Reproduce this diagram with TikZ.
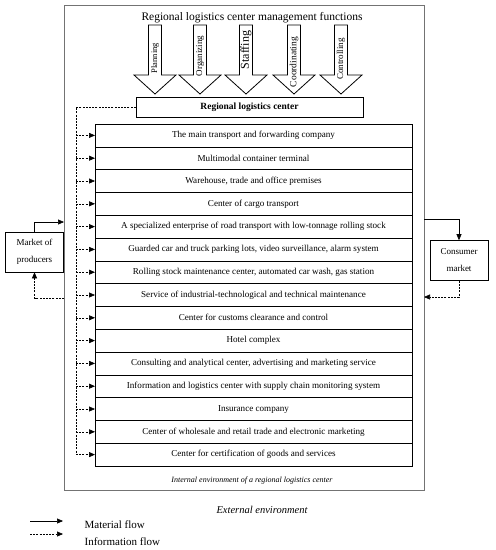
\documentclass[tikz,border=0pt]{standalone}
\usepackage{fontspec}
\setmainfont{Liberation Serif}
\usetikzlibrary{positioning,arrows.meta}

\begin{document}
\begin{tikzpicture}[x=1pt, y=-1pt, node distance=0pt, line width=0.6pt,
                    row node/.style={draw, minimum width=317pt, minimum height=22.8pt, inner sep=0pt, outer sep=0pt,
                                     font=\fontsize{9.1}{10}\selectfont},
                    market node/.style={draw, align=center, minimum width=58pt, minimum height=40pt, inner sep=1pt,
                                        font=\fontsize{9}{17}\selectfont},
                    material/.style={-{Triangle[length=6pt,width=5pt]}},
                    info arrow/.style={dash pattern=on 2pt off 1.2pt, -{Triangle[length=6pt,width=5pt]}},
                    info line/.style={dash pattern=on 2pt off 1.2pt},
                    pics/fnarrow/.style={code={
                      \draw[line width=0.8pt] (-6.5,25) -- (-6.5,75) -- (-21,75) -- (0,94) -- (21,75) -- (6.5,75) -- (6.5,25) -- cycle;
                    }}]

  \useasboundingbox (0,0) rectangle (496,550);

  % internal environment
  \node[draw=black!55, line width=0.5pt, minimum width=360pt, minimum height=485pt, inner sep=0pt, outer sep=0pt] (env) at (244,247.5) {};
  \node[font=\fontsize{11.5}{13}\selectfont] (title) at (252,18) {Regional logistics center management functions};

  % management functions
  \pic at (155,0) {fnarrow};
  \pic at (200,0) {fnarrow};
  \pic at (246,0) {fnarrow};
  \pic at (294,0) {fnarrow};
  \pic at (341,0) {fnarrow};
  \node[rotate=90, inner sep=0pt, font=\fontsize{8.5}{10}\selectfont] (f1) at (155,58) {Planning};
  \node[rotate=90, inner sep=0pt, font=\fontsize{9}{10}\selectfont] (f2) at (200,56) {Organizing};
  \node[rotate=90, inner sep=0pt, font=\fontsize{12}{14}\selectfont] (f3) at (246,50) {Staffing};
  \node[rotate=90, inner sep=0pt, font=\fontsize{9.5}{10}\selectfont] (f4) at (294,62) {Coordinating};
  \node[rotate=90, inner sep=0pt, font=\fontsize{9}{10}\selectfont] (f5) at (341,59) {Controlling};

  \node[draw, minimum width=227pt, minimum height=20pt, font=\bfseries\fontsize{9.5}{10}\selectfont] (rlc) at (249.5,107) {Regional logistics center};

  \node[row node] (r1) at (253.5,135.4) {The main transport and forwarding company};
  \node[row node] (r2) [below=of r1] {Multimodal container terminal};
  \node[row node] (r3) [below=of r2] {Warehouse, trade and office premises};
  \node[row node] (r4) [below=of r3] {Center of cargo transport};
  \node[row node] (r5) [below=of r4] {A specialized enterprise of road transport with low-tonnage rolling stock};
  \node[row node] (r6) [below=of r5] {Guarded car and truck parking lots, video surveillance, alarm system};
  \node[row node] (r7) [below=of r6] {Rolling stock maintenance center, automated car wash, gas station};
  \node[row node] (r8) [below=of r7] {Service of industrial-technological and technical maintenance};
  \node[row node] (r9) [below=of r8] {Center for customs clearance and control};
  \node[row node] (r10) [below=of r9] {Hotel complex};
  \node[row node] (r11) [below=of r10] {Consulting and analytical center, advertising and marketing service};
  \node[row node] (r12) [below=of r11] {Information and logistics center with supply chain monitoring system};
  \node[row node] (r13) [below=of r12] {Insurance company};
  \node[row node] (r14) [below=of r13] {Center of wholesale and retail trade and electronic marketing};
  \node[row node] (r15) [below=of r14] {Center for certification of goods and services};

  \node[font=\itshape\fontsize{8}{10}\selectfont] (inner) at (252,481) {Internal environment of a regional logistics center};
  \node[font=\itshape\fontsize{10.5}{12}\selectfont] (outer) at (262,510) {External environment};

  % markets
  \node[market node] (mp) at (34.5,252) {Market of\\producers};
  \node[market node] (cm) at (459,260.5) {Consumer\\market};

  % information inside
  \coordinate (infox) at (76,0);
  \draw[info line] (rlc.west) -| (r15.west -| infox);
  \path[info arrow]
    (r1.west -| infox) edge (r1.west)
    (r2.west -| infox) edge (r2.west)
    (r3.west -| infox) edge (r3.west)
    (r4.west -| infox) edge (r4.west)
    (r5.west -| infox) edge (r5.west)
    (r6.west -| infox) edge (r6.west)
    (r7.west -| infox) edge (r7.west)
    (r8.west -| infox) edge (r8.west)
    (r9.west -| infox) edge (r9.west)
    (r10.west -| infox) edge (r10.west)
    (r11.west -| infox) edge (r11.west)
    (r12.west -| infox) edge (r12.west)
    (r13.west -| infox) edge (r13.west)
    (r14.west -| infox) edge (r14.west)
    (r15.west -| infox) edge (r15.west);

  % flows to and from the markets
  \coordinate (prodin) at (64,222);
  \coordinate (prodout) at (64,298);
  \coordinate (consout) at (424,219);
  \coordinate (consin) at (424,297);
  \draw[material] (mp.north) |- (prodin);
  \draw[info arrow] (prodout) -| (mp.south);
  \draw[material] (consout) -| (cm.north);
  \draw[info arrow] (cm.south) |- (consin);

  % legend
  \coordinate (lm1) at (30,521);
  \coordinate (lm2) at (63,521);
  \coordinate (li1) at (30,534);
  \coordinate (li2) at (63,534);
  \draw[material] (lm1) -- (lm2);
  \draw[info arrow] (li1) -- (li2);
  \node[anchor=west, font=\fontsize{11}{13}\selectfont] (lmtext) at (81,525) {Material flow};
  \node[anchor=west, font=\fontsize{11}{13}\selectfont] (litext) at (81,542) {Information flow};

\end{tikzpicture}
\end{document}
